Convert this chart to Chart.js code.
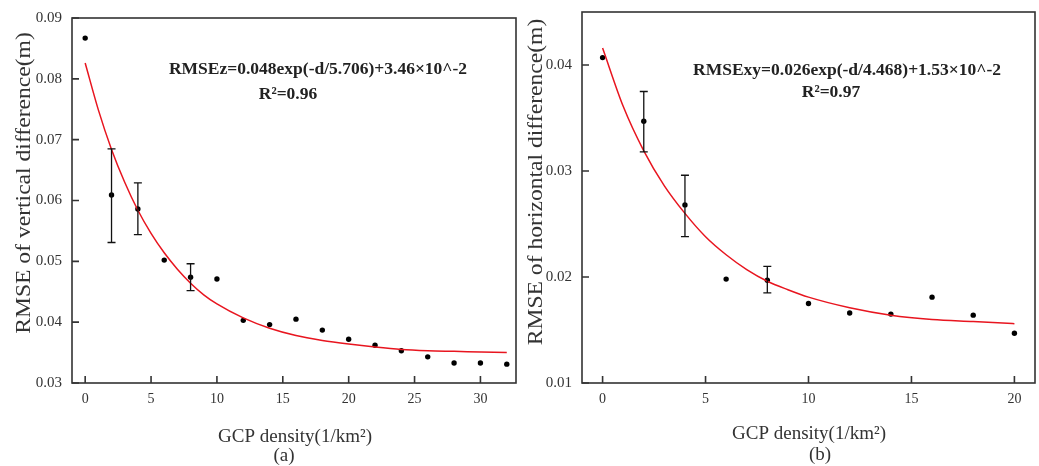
<!DOCTYPE html>
<html lang="en">
<head>
    <meta charset="UTF-8">
    <title>GCP density vs RMSE</title>
    <script src="https://cdn.jsdelivr.net/npm/chart.js"></script>
    <style>
        body { margin: 0; background: #fff; }
        .wrap { position: relative; width: 1039px; height: 466px; }
        canvas { position: absolute; top: 0; }
        #chartA { left: 0; }
        #chartB { left: 520px; }
    </style>
</head>
<body>
    <div class="wrap">
        <canvas id="chartA" width="520" height="466"></canvas>
        <canvas id="chartB" width="519" height="466"></canvas>
    </div>
    <script>
        // (a) vertical difference
        const densA = [0, 2, 4, 6, 8, 10, 12, 14, 16, 18, 20, 22, 24, 26, 28, 30, 32];
        const rmseA = [0.0867, 0.0609, 0.0586, 0.0502, 0.0474, 0.0471, 0.0403, 0.0396, 0.0405, 0.0387, 0.0372, 0.0362, 0.0353, 0.0343, 0.0333, 0.0333, 0.0331];
        const errXA = [2, 4, 8];
        const errLowA = [0.0531, 0.0544, 0.0452];
        const errHighA = [0.0685, 0.0629, 0.0496];
        const fitXA = [0, 1, 2, 3, 4, 5, 6, 7, 8, 9, 10, 12, 14, 16, 18, 20, 22, 24, 26, 28, 30, 32];
        const fitYA = [0.0826, 0.0749, 0.0684, 0.0630, 0.0584, 0.0546, 0.0514, 0.0487, 0.0464, 0.0445, 0.0430, 0.0407, 0.0390, 0.0378, 0.0370, 0.0364, 0.0359, 0.0355, 0.0353, 0.0352, 0.0351, 0.0350];
        const xTicksA = [0, 5, 10, 15, 20, 25, 30];
        const yTicksA = [0.03, 0.04, 0.05, 0.06, 0.07, 0.08, 0.09];

        // (b) horizontal difference
        const densB = [0, 2, 4, 6, 8, 10, 12, 14, 16, 18, 20];
        const rmseB = [0.0407, 0.0347, 0.0268, 0.0198, 0.0197, 0.0175, 0.0166, 0.0165, 0.0181, 0.0164, 0.0147];
        const errXB = [2, 4, 8];
        const errLowB = [0.0318, 0.0238, 0.0185];
        const errHighB = [0.0375, 0.0296, 0.0210];
        const fitXB = [0, 1, 2, 3, 4, 5, 6, 7, 8, 9, 10, 12, 14, 16, 18, 20];
        const fitYB = [0.0416, 0.0361, 0.0319, 0.0286, 0.0260, 0.0238, 0.0221, 0.0207, 0.0196, 0.0188, 0.0181, 0.0171, 0.0164, 0.0160, 0.0158, 0.0156];
        const xTicksB = [0, 5, 10, 15, 20];
        const yTicksB = [0.01, 0.02, 0.03, 0.04];

        const serif = '"Liberation Serif", "Times New Roman", serif';

        // error bars, frame with inward ticks, and the text around each panel
        const panelDecor = {
            id: 'panelDecor',
            afterDatasetsDraw(chart, args, o) {
                const ctx = chart.ctx;
                const a = chart.chartArea;
                const x = chart.scales.x, y = chart.scales.y;
                ctx.save();

                ctx.strokeStyle = '#111';
                ctx.lineWidth = 1.3;
                ctx.beginPath();
                o.errX.forEach((d, i) => {
                    const px = x.getPixelForValue(d);
                    const y1 = y.getPixelForValue(o.errLow[i]);
                    const y2 = y.getPixelForValue(o.errHigh[i]);
                    ctx.moveTo(px, y1); ctx.lineTo(px, y2);
                    ctx.moveTo(px - 4, y1); ctx.lineTo(px + 4, y1);
                    ctx.moveTo(px - 4, y2); ctx.lineTo(px + 4, y2);
                });
                ctx.stroke();

                ctx.strokeStyle = '#333';
                ctx.lineWidth = 1.6;
                ctx.strokeRect(a.left, a.top, a.right - a.left, a.bottom - a.top);
                ctx.beginPath();
                x.ticks.forEach(t => {
                    const px = x.getPixelForValue(t.value);
                    ctx.moveTo(px, a.bottom); ctx.lineTo(px, a.bottom - 7);
                });
                y.ticks.forEach(t => {
                    const py = y.getPixelForValue(t.value);
                    ctx.moveTo(a.left, py); ctx.lineTo(a.left + 7, py);
                });
                ctx.stroke();

                ctx.fillStyle = '#222';
                ctx.textAlign = 'center';
                ctx.textBaseline = 'alphabetic';
                ctx.font = 'bold 17.5px ' + serif;
                ctx.fillText(o.eqn, o.eqnPos[0], o.eqnPos[1]);
                ctx.fillText(o.r2, o.r2Pos[0], o.r2Pos[1]);

                ctx.fillStyle = '#333';
                ctx.font = '19px ' + serif;
                ctx.fillText(o.xTitle, o.xTitlePos[0], o.xTitlePos[1]);
                ctx.fillText(o.tag, o.tagPos[0], o.tagPos[1]);

                // the y title in the figure is stretched along its length
                ctx.font = '20px ' + serif;
                ctx.textBaseline = 'middle';
                ctx.translate(o.yTitlePos[0], o.yTitlePos[1]);
                ctx.rotate(-Math.PI / 2);
                ctx.scale(1.18, 1);
                ctx.fillText(o.yTitle, 0, 0);
                ctx.restore();
            }
        };

        function makePanel(id, p) {
            return new Chart(document.getElementById(id), {
                type: 'scatter',
                data: {
                    datasets: [{
                        type: 'line',
                        data: p.fitX.map((v, i) => ({ x: v, y: p.fitY[i] })),
                        borderColor: '#e8151f',
                        borderWidth: 1.5,
                        pointRadius: 0,
                        cubicInterpolationMode: 'monotone',
                        fill: false
                    }, {
                        data: p.dens.map((v, i) => ({ x: v, y: p.rmse[i] })),
                        backgroundColor: '#000',
                        borderColor: '#000',
                        pointRadius: 2.7,
                        borderWidth: 0
                    }]
                },
                options: {
                    responsive: false,
                    animation: false,
                    layout: { padding: { top: p.padTop, right: p.padRight, left: 0, bottom: 0 } },
                    plugins: {
                        legend: { display: false },
                        tooltip: { enabled: false },
                        panelDecor: p.decor
                    },
                    scales: {
                        x: {
                            type: 'linear',
                            min: p.xMin,
                            max: p.xMax,
                            grid: { display: false },
                            border: { display: false },
                            afterBuildTicks: s => { s.ticks = p.xTicks.map(v => ({ value: v })); },
                            afterFit: s => { s.height = 83; },
                            ticks: {
                                padding: 0,
                                color: '#333',
                                font: { family: serif, size: 14 }
                            }
                        },
                        y: {
                            min: p.yMin,
                            max: p.yMax,
                            grid: { display: false },
                            border: { display: false },
                            afterBuildTicks: s => { s.ticks = p.yTicks.map(v => ({ value: v })); },
                            afterFit: s => { s.width = p.yWidth; },
                            ticks: {
                                padding: 2,
                                color: '#333',
                                font: { family: serif, size: 15 },
                                callback: v => v.toFixed(2)
                            }
                        }
                    }
                },
                plugins: [panelDecor]
            });
        }

        makePanel('chartA', {
            dens: densA, rmse: rmseA, fitX: fitXA, fitY: fitYA,
            xTicks: xTicksA, yTicks: yTicksA,
            xMin: -1, xMax: 32.7, yMin: 0.03, yMax: 0.09,
            padTop: 18, padRight: 4, yWidth: 72,
            decor: {
                errX: errXA, errLow: errLowA, errHigh: errHighA,
                eqn: 'RMSEz=0.048exp(-d/5.706)+3.46×10^-2', eqnPos: [318, 74],
                r2: 'R²=0.96', r2Pos: [288, 99],
                xTitle: 'GCP density(1/km²)', xTitlePos: [295, 442],
                tag: '(a)', tagPos: [284, 461],
                yTitle: 'RMSE of vertical difference(m)', yTitlePos: [25, 183]
            }
        });

        makePanel('chartB', {
            dens: densB, rmse: rmseB, fitX: fitXB, fitY: fitYB,
            xTicks: xTicksB, yTicks: yTicksB,
            xMin: -1, xMax: 21, yMin: 0.01, yMax: 0.045,
            padTop: 12, padRight: 4, yWidth: 62,
            decor: {
                errX: errXB, errLow: errLowB, errHigh: errHighB,
                eqn: 'RMSExy=0.026exp(-d/4.468)+1.53×10^-2', eqnPos: [327, 75],
                r2: 'R²=0.97', r2Pos: [311, 97],
                xTitle: 'GCP density(1/km²)', xTitlePos: [289, 439],
                tag: '(b)', tagPos: [300, 460],
                yTitle: 'RMSE of horizontal difference(m)', yTitlePos: [17, 182]
            }
        });
    </script>
</body>
</html>
